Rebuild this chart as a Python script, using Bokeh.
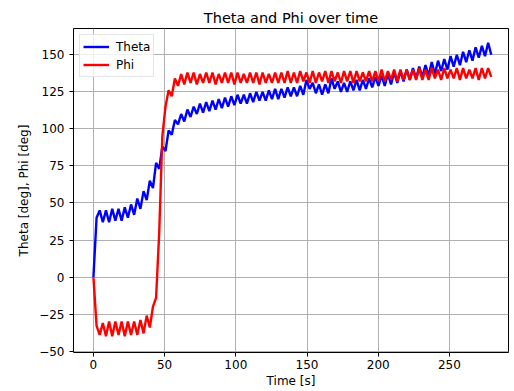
from bokeh.plotting import figure
from bokeh.models import Range1d, FixedTicker, CustomJSTickFormatter, Legend, LegendItem
from bokeh.embed import file_html
from bokeh.resources import INLINE

time_s = [0.0, 2.2, 4.4, 6.6, 8.8, 11.0, 13.2, 15.4, 17.6, 19.8,
          22.0, 24.2, 26.4, 28.6, 30.8, 33.0, 35.2, 37.4, 39.6, 41.8,
          44.0, 46.2, 48.4, 50.6, 52.8, 55.0, 57.2, 59.4, 61.6, 63.8,
          66.0, 68.2, 70.4, 72.6, 74.8, 77.0, 79.2, 81.4, 83.6, 85.8,
          88.0, 90.2, 92.4, 94.6, 96.8, 99.0, 101.2, 103.4, 105.6, 107.8,
          110.0, 112.2, 114.4, 116.6, 118.8, 121.0, 123.2, 125.4, 127.6, 129.8,
          132.0, 134.2, 136.4, 138.6, 140.8, 143.0, 145.2, 147.4, 149.6, 151.8,
          154.0, 156.2, 158.4, 160.6, 162.8, 165.0, 167.2, 169.4, 171.6, 173.8,
          176.0, 178.2, 180.4, 182.6, 184.8, 187.0, 189.2, 191.4, 193.6, 195.8,
          198.0, 200.2, 202.4, 204.6, 206.8, 209.0, 211.2, 213.4, 215.6, 217.8,
          220.0, 222.2, 224.4, 226.6, 228.8, 231.0, 233.2, 235.4, 237.6, 239.8,
          242.0, 244.2, 246.4, 248.6, 250.8, 253.0, 255.2, 257.4, 259.6, 261.8,
          264.0, 266.2, 268.4, 270.6, 272.8, 275.0, 277.2, 279.4]

theta_deg = [0, 40, 45, 37, 45, 37, 46, 38, 46, 38,
             47, 40, 49, 42, 53, 46, 58, 52, 65, 60,
             77, 73, 88, 85, 99, 96, 106, 103, 110, 105,
             113, 108, 115, 110, 117, 111, 118, 112, 119, 113,
             120, 114, 121, 115, 122, 116, 123, 117, 123, 117,
             124, 118, 125, 119, 125, 119, 126, 120, 127, 120,
             127, 121, 128, 122, 128, 122, 129, 123, 133, 127,
             131, 124, 130, 123, 130, 124, 134, 127, 132, 125,
             131, 125, 132, 126, 133, 126, 133, 127, 134, 128,
             135, 129, 136, 129, 137, 130, 138, 131, 139, 132,
             140, 133, 141, 134, 142, 135, 143, 136, 145, 137,
             146, 139, 147, 140, 149, 142, 150, 143, 152, 145,
             153, 146, 155, 148, 156, 149, 158, 150]

phi_deg = [0, -33, -39, -31, -40, -30, -40, -30, -39, -30,
           -40, -30, -39, -30, -39, -29, -38, -26, -34, -20,
           -14, 30, 95, 115, 126, 122, 134, 129, 137, 130,
           138, 131, 138, 130, 137, 131, 138, 131, 138, 130,
           137, 131, 138, 131, 138, 130, 138, 131, 137, 131,
           138, 131, 138, 130, 138, 131, 137, 131, 138, 131,
           138, 131, 139, 131, 138, 131, 139, 132, 138, 131,
           139, 131, 138, 132, 139, 131, 139, 132, 138, 131,
           139, 132, 139, 131, 139, 132, 138, 132, 139, 132,
           139, 132, 140, 132, 139, 133, 140, 132, 140, 133,
           140, 133, 140, 133, 141, 133, 140, 133, 141, 134,
           140, 133, 141, 134, 140, 134, 141, 133, 141, 134,
           140, 134, 141, 133, 141, 134, 141, 135]

x_ticks = [0, 50, 100, 150, 200, 250]
y_ticks = [-50, -25, 0, 25, 50, 75, 100, 125, 150]

FONT = "DejaVu Sans"

p = figure(width=514, height=391, output_backend="svg", toolbar_location=None,
           x_range=Range1d(-14, 291.5), y_range=Range1d(-50.9, 167.7),
           min_border_left=73, min_border_right=6, min_border_top=28, min_border_bottom=39,
           title="Theta and Phi over time")

p.title.align = "center"
p.title.text_font = FONT
p.title.text_font_size = "14.5px"
p.title.text_font_style = "normal"
p.title.text_color = "#000000"
p.title.standoff = 6
p.title.text_line_height = 1.0

r1 = p.line(time_s, theta_deg, line_color="#0000ff", line_width=2.4)
r2 = p.line(time_s, phi_deg, line_color="#ff0000", line_width=2.4)

minus_fmt = CustomJSTickFormatter(code="return tick < 0 ? '\\u2212' + Math.abs(tick) : String(tick);")

for ax, ticks, lab in ((p.xaxis[0], x_ticks, "Time [s]"), (p.yaxis[0], y_ticks, "Theta [deg], Phi [deg]")):
    ax.ticker = FixedTicker(ticks=ticks)
    ax.formatter = minus_fmt
    ax.axis_label = lab
    ax.axis_label_text_font = FONT
    ax.axis_label_text_font_size = "12px"
    ax.axis_label_text_font_style = "normal"
    ax.axis_label_text_color = "#000000"
    ax.major_label_text_font = FONT
    ax.major_label_text_font_size = "12px"
    ax.major_label_text_color = "#000000"
    ax.major_tick_out = 4
    ax.major_tick_in = 0
    ax.minor_tick_out = 0
    ax.minor_tick_in = 0
    ax.major_tick_line_color = "#000000"
    ax.axis_line_color = None

p.xaxis[0].major_label_standoff = 3
p.xaxis[0].axis_label_standoff = 2
p.yaxis[0].major_label_standoff = 5
p.yaxis[0].axis_label_standoff = 5

p.xgrid.ticker = FixedTicker(ticks=x_ticks)
p.ygrid.ticker = FixedTicker(ticks=y_ticks)
p.grid.grid_line_color = "#b0b0b0"
p.grid.grid_line_width = 1

p.outline_line_color = "#000000"
p.outline_line_width = 1
p.background_fill_color = "#ffffff"
p.border_fill_color = "#ffffff"

legend = Legend(items=[LegendItem(label="Theta", renderers=[r1]),
                       LegendItem(label="Phi", renderers=[r2])],
                location="top_left")
legend.label_text_font = FONT
legend.label_text_font_size = "12px"
legend.label_text_color = "#000000"
legend.border_line_color = "#cccccc"
legend.border_line_width = 1
legend.background_fill_alpha = 0.8
legend.glyph_width = 26
legend.glyph_height = 17
legend.label_height = 17
legend.label_standoff = 7
legend.spacing = 1
legend.padding = 3
legend.margin = 6
p.add_layout(legend)

open("out.html", "w").write(file_html(p, INLINE))
